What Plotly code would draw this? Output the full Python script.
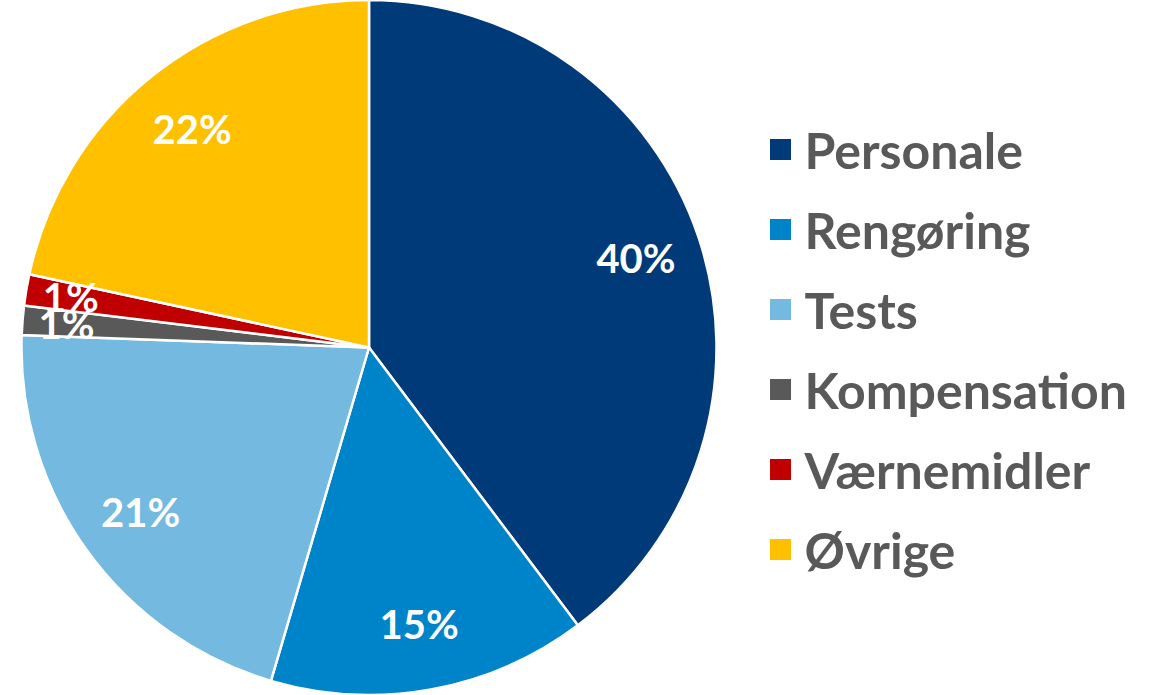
import plotly.graph_objects as go

categories = ["Personale", "Rengøring", "Tests", "Kompensation", "Værnemidler", "Øvrige"]
shares = [39.7, 14.8, 21.0, 1.35, 1.45, 21.6]
colors = ["#003A78", "#0084C9", "#74B9E0", "#595959", "#C00000", "#FFC000"]
small = [False, False, False, True, True, False]

FONT = "Lato"
W, H = 1155, 695
CX, CY, R = 369, 347.5, 347.5
DOMAIN = dict(x=[(CX - R) / W, (CX + R) / W], y=[0, 1])
rs = R * 0.91
DOMAIN_SMALL = dict(x=[(CX - rs) / W, (CX + rs) / W], y=[(CY - rs) / H, (CY + rs) / H])

big_tpl = ["" if s else "%{percent:.0%}" for s in small]
small_tpl = ["%{percent:.0%}" if s else "" for s in small]
clear = ["rgba(0,0,0,0)"] * len(categories)
lblfont = dict(family=FONT, size=40, color="white", weight="bold")

fig = go.Figure()
# slices
fig.add_trace(go.Pie(
    labels=categories, values=shares, sort=False,
    direction="clockwise", rotation=0,
    marker=dict(colors=colors, line=dict(color="white", width=2.5)),
    textinfo="none", showlegend=False, domain=DOMAIN,
))
# percentage labels of the larger slices, in an outer ring (transparent)
fig.add_trace(go.Pie(
    labels=categories, values=shares, sort=False,
    direction="clockwise", rotation=0, hole=0.62,
    marker=dict(colors=clear, line=dict(width=0)),
    texttemplate=big_tpl, textposition="inside",
    insidetextorientation="horizontal", textfont=lblfont,
    showlegend=False, hoverinfo="skip", domain=DOMAIN,
))
# percentage labels of the thin slices (transparent, slightly smaller radius)
fig.add_trace(go.Pie(
    labels=categories, values=shares, sort=False,
    direction="clockwise", rotation=0,
    marker=dict(colors=clear, line=dict(width=0)),
    texttemplate=small_tpl, textposition="inside",
    insidetextorientation="horizontal", textfont=lblfont,
    showlegend=False, hoverinfo="skip", domain=DOMAIN_SMALL,
))

for i, (c, col) in enumerate(zip(categories, colors)):
    fig.add_trace(go.Scatter(
        x=[None], y=[None], mode="markers", name=c,
        marker=dict(symbol="square", size=16, color=col, line=dict(color=col, width=5)),
        legendgroup=f"g{i}", showlegend=True,
    ))

fig.update_layout(
    width=W, height=H,
    margin=dict(l=0, r=0, t=0, b=0),
    paper_bgcolor="white", plot_bgcolor="white",
    uniformtext=dict(mode="show", minsize=40),
    xaxis=dict(visible=False), yaxis=dict(visible=False),
    legend=dict(
        x=0.655, xanchor="left", y=0.497, yanchor="middle",
        font=dict(family=FONT, size=50, color="#595959", weight="bold"),
        tracegroupgap=12, itemwidth=38,
        bgcolor="rgba(0,0,0,0)",
    ),
)

fig.write_html(
    "out.html",
    config={"displayModeBar": False},
    post_script="document.body.style.margin='0';document.body.style.overflow='hidden';",
)
